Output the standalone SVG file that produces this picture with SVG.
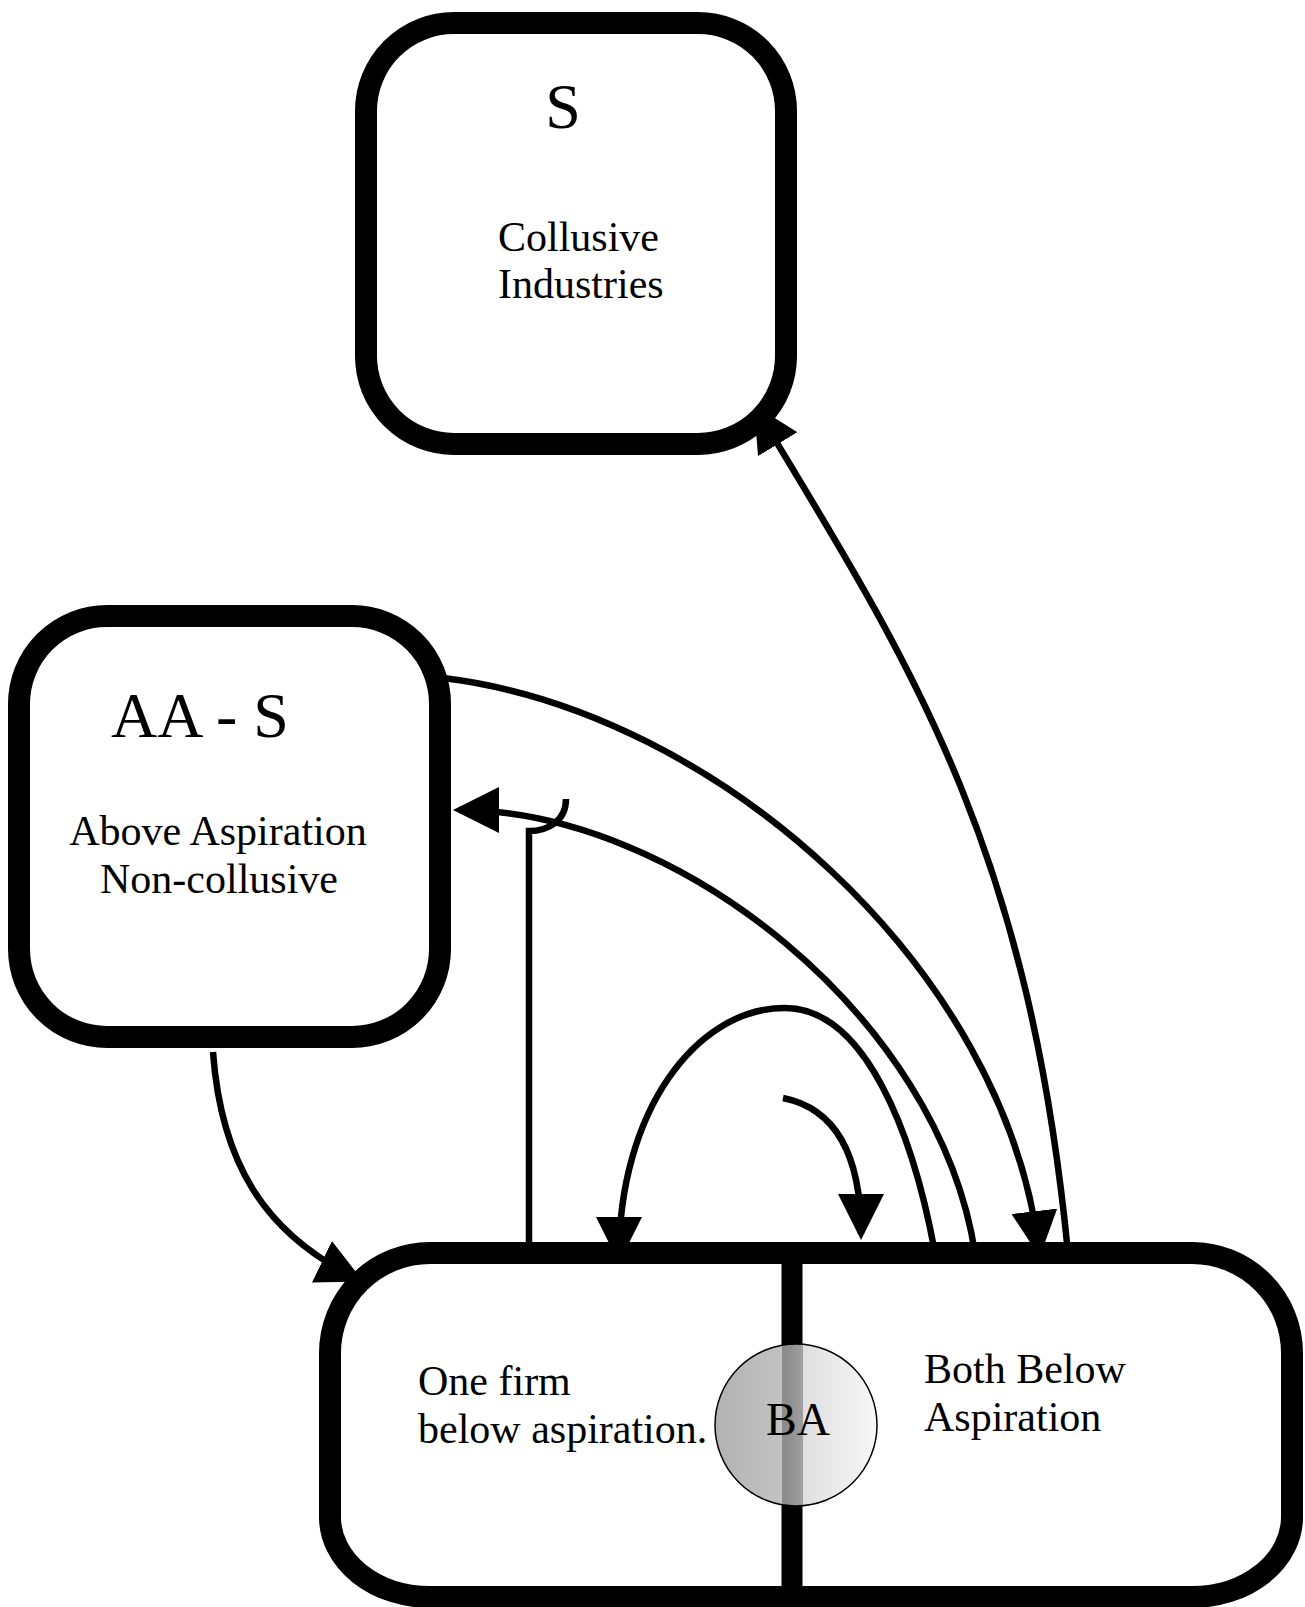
<svg xmlns="http://www.w3.org/2000/svg" width="1305" height="1607" viewBox="0 0 1305 1607">
<style>
.box{fill:#fff;stroke:#000;stroke-width:22}
.conn{fill:none;stroke:#000;stroke-width:6.5;stroke-linecap:butt}
.arr{marker-end:url(#ah)}
text{font-family:"Liberation Serif","Times New Roman",serif;fill:#000}
.lbl{font-size:42px}
</style>
<defs>
<marker id="ah" markerUnits="userSpaceOnUse" markerWidth="46" markerHeight="46" viewBox="0 0 46 46" refX="40" refY="23" orient="auto">
<path d="M0,0 L46,23 L0,46 Z" fill="#000"/>
</marker>
<linearGradient id="ballGrad" x1="0" y1="0" x2="1" y2="0">
<stop offset="0" stop-color="#b2b2b2"/>
<stop offset="0.45" stop-color="#c4c4c4"/>
<stop offset="0.55" stop-color="#e0e0e0"/>
<stop offset="1" stop-color="#f7f7f7"/>
</linearGradient>
<clipPath id="ballClip"><circle cx="796" cy="1425" r="81"/></clipPath>
</defs>

<g id="connectors">
<path class="conn arr" d="M1068,1253 C1028,843 910,663 757,410"/>
<path class="conn arr" d="M443,678 C718,711 1006,970 1039,1251"/>
<path class="conn arr" d="M975,1253 C939,1018 678,810 459,810"/>
<path class="conn arr" d="M935,1253 C913,1133 865,1008 785,1008 C695,1008 619,1113 619,1257"/>
<path class="conn arr" d="M783,1098 C833,1108 861,1150 861,1234"/>
<path class="conn" d="M529,1253 L529,831 C548,831 566,821 566,799"/>
<path class="conn arr" d="M213,1052 C221,1162 264,1234 358,1279"/>
</g>

<g id="node-S">
<rect class="box" x="366" y="23" width="420" height="421" rx="88" ry="88"/>
<text x="563" y="128" font-size="64" text-anchor="middle">S</text>
<text class="lbl" x="498" y="251">Collusive</text>
<text class="lbl" x="498" y="298">Industries</text>
</g>

<g id="node-AAS">
<rect class="box" x="19" y="616" width="421" height="421" rx="88" ry="88"/>
<text x="111" y="737" font-size="64">AA - S</text>
<text class="lbl" x="218" y="845" text-anchor="middle">Above Aspiration</text>
<text class="lbl" x="219" y="893" text-anchor="middle">Non-collusive</text>
</g>

<g id="node-BA">
<path class="box" d="M430,1253 H1192 A100,100 0 0 1 1292,1353 V1517 A100,80 0 0 1 1192,1597 H430 A100,80 0 0 1 330,1517 V1353 A100,100 0 0 1 430,1253 Z"/>
<line x1="792" y1="1253" x2="792" y2="1597" stroke="#000" stroke-width="21"/>
<text class="lbl" x="418" y="1395">One firm</text>
<text class="lbl" x="418" y="1443">below aspiration.</text>
<text class="lbl" x="924" y="1383">Both Below</text>
<text class="lbl" x="924" y="1431">Aspiration</text>
<circle cx="796" cy="1425" r="81" fill="url(#ballGrad)"/>
<rect x="782" y="1340" width="21" height="170" fill="#000" opacity="0.28" clip-path="url(#ballClip)"/>
<circle cx="796" cy="1425" r="81" fill="none" stroke="#000" stroke-width="1.5"/>
<text x="798" y="1435" font-size="46" text-anchor="middle">BA</text>
</g>
</svg>
